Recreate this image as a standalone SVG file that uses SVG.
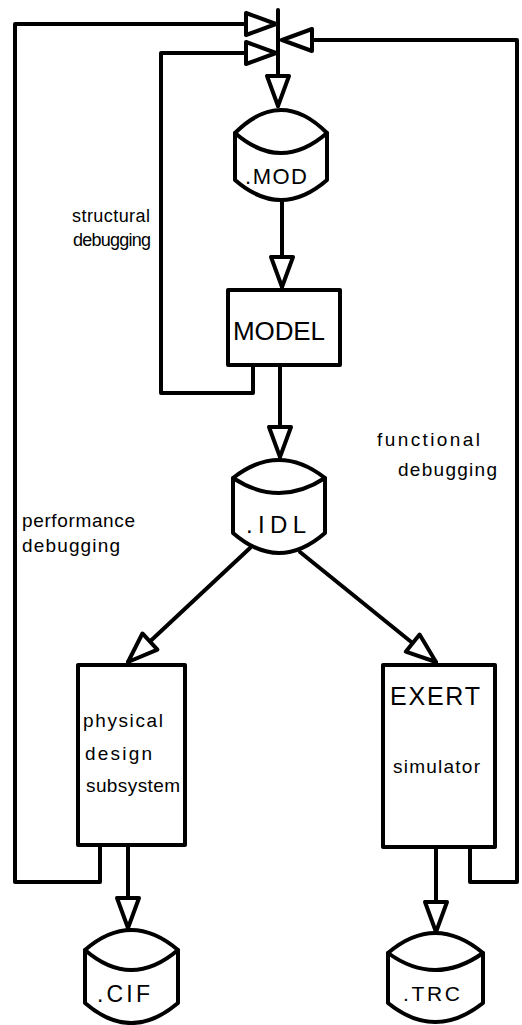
<svg xmlns="http://www.w3.org/2000/svg" width="522" height="1025" viewBox="0 0 522 1025">
<style>
.s{fill:none;stroke:#000;stroke-width:4;stroke-linejoin:round;stroke-linecap:round}
.b{fill:#fff;stroke:#000;stroke-width:4;stroke-linejoin:round}
.t{font-family:"Liberation Sans",Arial,sans-serif;fill:#000}
</style>
<defs>
<marker id="ah" viewBox="-4 -15 38 30" refX="30" refY="0" markerWidth="38" markerHeight="30" markerUnits="userSpaceOnUse" orient="auto">
<path d="M0,-11 L30,0 L0,11 Z" fill="#fff" stroke="#000" stroke-width="4" stroke-linejoin="round"/>
</marker>
</defs>
<rect width="522" height="1025" fill="#fff"/>
<g id="connectors">
<path class="s" d="M278,10 L278,106" marker-end="url(#ah)"/>
<path class="s" d="M100,845 L100,882 L15,882 L15,24 L276,24" marker-end="url(#ah)"/>
<path class="s" d="M253,365 L253,393 L161,393 L161,53 L276,53" marker-end="url(#ah)"/>
<path class="s" d="M470,848 L470,882 L517,882 L517,40 L282,40" marker-end="url(#ah)"/>
<path class="s" d="M282,200 L282,287" marker-end="url(#ah)"/>
<path class="s" d="M280,365 L280,457" marker-end="url(#ah)"/>
<path class="s" d="M250,548 L128,662" marker-end="url(#ah)"/>
<path class="s" d="M300,552 L436,662" marker-end="url(#ah)"/>
<path class="s" d="M128,845 L128,928" marker-end="url(#ah)"/>
<path class="s" d="M436,848 L436,932" marker-end="url(#ah)"/>
</g>
<g id="mod">
<path class="b" d="M235,133 Q281,87 327,133 L327,180 Q281,220 235,180 Z"/>
<path class="s" d="M235,133 Q281,173 327,133"/>
<text class="t" x="245" y="184" font-size="22" textLength="62">.MOD</text>
</g>
<g id="model">
<rect class="b" x="228" y="290" width="112" height="75"/>
<text class="t" x="233" y="340" font-size="26" textLength="92">MODEL</text>
</g>
<g id="idl">
<path class="b" d="M233,478 Q279,442 325,478 L325,533 Q279,573 233,533 Z"/>
<path class="s" d="M233,478 Q279,508 325,478"/>
<text class="t" x="246" y="533" font-size="24" textLength="60">.IDL</text>
</g>
<g id="physical">
<rect class="b" x="78" y="665" width="107" height="180"/>
<text class="t" x="83" y="727" font-size="19" textLength="80">physical</text>
<text class="t" x="85" y="760" font-size="19" textLength="67">design</text>
<text class="t" x="86" y="792" font-size="19" textLength="94">subsystem</text>
</g>
<g id="exert">
<rect class="b" x="383" y="665" width="112" height="182"/>
<text class="t" x="390" y="705" font-size="25" textLength="90">EXERT</text>
<text class="t" x="393" y="773" font-size="19" textLength="87">simulator</text>
</g>
<g id="cif">
<path class="b" d="M85,950 Q131,910 178,950 L178,1003 Q131,1043 85,1003 Z"/>
<path class="s" d="M85,950 Q131,990 178,950"/>
<text class="t" x="97" y="1002" font-size="23" textLength="53">.CIF</text>
</g>
<g id="trc">
<path class="b" d="M388,953 Q435,913 483,953 L483,1003 Q435,1041 388,1003 Z"/>
<path class="s" d="M388,953 Q435,987 483,953"/>
<text class="t" x="403" y="1001" font-size="21" textLength="57">.TRC</text>
</g>
<g id="labels">
<text class="t" x="72" y="222" font-size="18" textLength="78">structural</text>
<text class="t" x="73" y="246" font-size="18" textLength="78">debugging</text>
<text class="t" x="377" y="446" font-size="19" textLength="103">functional</text>
<text class="t" x="398" y="476" font-size="19" textLength="99">debugging</text>
<text class="t" x="22" y="527" font-size="19" textLength="113">performance</text>
<text class="t" x="22" y="552" font-size="19" textLength="98">debugging</text>
</g>
</svg>
